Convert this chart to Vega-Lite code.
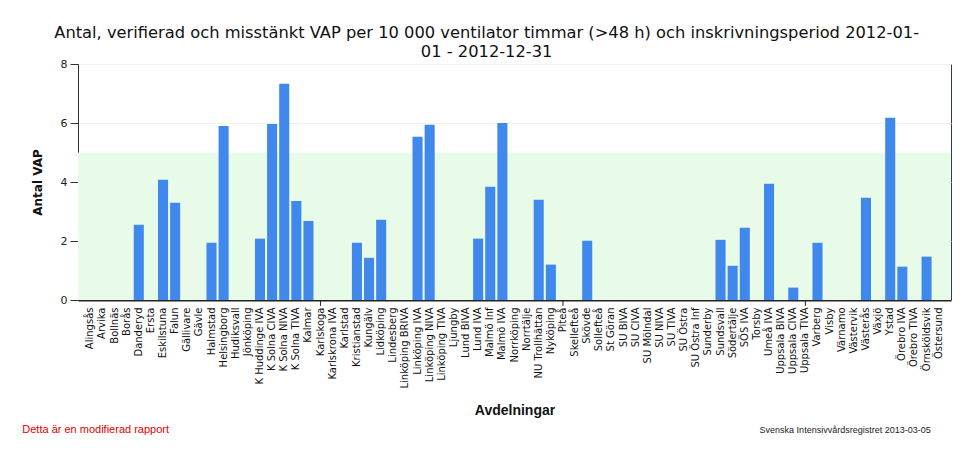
{
  "$schema": "https://vega.github.io/schema/vega-lite/v6.json",
  "width": 873,
  "height": 236,
  "padding": {"left": 22, "top": 24, "right": 20, "bottom": 10},
  "background": "#ffffff",
  "title": {
    "text": ["Antal, verifierad och misstänkt VAP per 10 000 ventilator timmar (>48 h) och inskrivningsperiod 2012-01-", "01 - 2012-12-31"],
    "font": "DejaVu Sans",
    "fontSize": 16.3,
    "fontWeight": "normal",
    "color": "#111111",
    "anchor": "middle",
    "frame": "bounds",
    "offset": -2,
    "lineHeight": 19
  },
  "data": {
    "values": [
      {"avd": "Alingsås", "vap": 0},
      {"avd": "Arvika", "vap": 0},
      {"avd": "Bollnäs", "vap": 0},
      {"avd": "Borås", "vap": 0},
      {"avd": "Danderyd", "vap": 2.55},
      {"avd": "Ersta", "vap": 0},
      {"avd": "Eskilstuna", "vap": 4.08},
      {"avd": "Falun", "vap": 3.3},
      {"avd": "Gällivare", "vap": 0},
      {"avd": "Gävle", "vap": 0},
      {"avd": "Halmstad", "vap": 1.94},
      {"avd": "Helsingborg", "vap": 5.9},
      {"avd": "Hudiksvall", "vap": 0},
      {"avd": "Jönköping", "vap": 0},
      {"avd": "K Huddinge IVA", "vap": 2.08},
      {"avd": "K Solna CIVA", "vap": 5.97},
      {"avd": "K Solna NIVA", "vap": 7.33},
      {"avd": "K Solna TIVA", "vap": 3.36},
      {"avd": "Kalmar", "vap": 2.68},
      {"avd": "Karlskoga", "vap": 0},
      {"avd": "Karlskrona IVA", "vap": 0},
      {"avd": "Karlstad", "vap": 0},
      {"avd": "Kristianstad", "vap": 1.94},
      {"avd": "Kungälv", "vap": 1.43},
      {"avd": "Lidköping", "vap": 2.72},
      {"avd": "Lindesberg", "vap": 0},
      {"avd": "Linköping BRIVA", "vap": 0},
      {"avd": "Linköping IVA", "vap": 5.53},
      {"avd": "Linköping NIVA", "vap": 5.94},
      {"avd": "Linköping TIVA", "vap": 0},
      {"avd": "Ljungby", "vap": 0},
      {"avd": "Lund BIVA", "vap": 0},
      {"avd": "Lund IVA", "vap": 2.08},
      {"avd": "Malmö Inf", "vap": 3.84},
      {"avd": "Malmö IVA", "vap": 6.0},
      {"avd": "Norrköping", "vap": 0},
      {"avd": "Norrtälje", "vap": 0},
      {"avd": "NU Trollhättan", "vap": 3.4},
      {"avd": "Nyköping", "vap": 1.2},
      {"avd": "Piteå", "vap": 0},
      {"avd": "Skellefteå", "vap": 0},
      {"avd": "Skövde", "vap": 2.01},
      {"avd": "Sollefteå", "vap": 0},
      {"avd": "St Göran", "vap": 0},
      {"avd": "SU BIVA", "vap": 0},
      {"avd": "SU CIVA", "vap": 0},
      {"avd": "SU Mölndal", "vap": 0},
      {"avd": "SU NIVA", "vap": 0},
      {"avd": "SU TIVA", "vap": 0},
      {"avd": "SU Östra", "vap": 0},
      {"avd": "SU Östra Inf", "vap": 0},
      {"avd": "Sunderby", "vap": 0},
      {"avd": "Sundsvall", "vap": 2.04},
      {"avd": "Södertälje", "vap": 1.16},
      {"avd": "SÖS IVA", "vap": 2.45},
      {"avd": "Torsby", "vap": 0},
      {"avd": "Umeå IVA", "vap": 3.94},
      {"avd": "Uppsala BIVA", "vap": 0},
      {"avd": "Uppsala CIVA", "vap": 0.42},
      {"avd": "Uppsala TIVA", "vap": 0},
      {"avd": "Varberg", "vap": 1.94},
      {"avd": "Visby", "vap": 0},
      {"avd": "Värnamo", "vap": 0},
      {"avd": "Västervik", "vap": 0},
      {"avd": "Västerås", "vap": 3.47},
      {"avd": "Växjö", "vap": 0},
      {"avd": "Ystad", "vap": 6.18},
      {"avd": "Örebro IVA", "vap": 1.13},
      {"avd": "Örebro TIVA", "vap": 0},
      {"avd": "Örnsköldsvik", "vap": 1.47},
      {"avd": "Östersund", "vap": 0}
    ]
  },
  "layer": [
    {
      "data": {"values": [{}]},
      "mark": {"type": "rect", "color": "#e8fbe8"},
      "encoding": {
        "y": {"datum": 0, "type": "quantitative"},
        "y2": {"datum": 5}
      }
    },
    {
      "mark": {"type": "bar", "color": "#4188ec"},
      "encoding": {
        "x": {
          "field": "avd",
          "type": "nominal",
          "sort": null,
          "scale": {"paddingInner": 0.17, "paddingOuter": 0.6},
          "axis": {
            "title": "Avdelningar",
            "labelAngle": -90,
            "labelOverlap": false,
            "labelFont": "DejaVu Sans",
            "labelFontSize": 10,
            "labelColor": "#111111",
            "labelPadding": 7,
            "ticks": false,
            "domainColor": "#222222",
            "domainWidth": 2,
            "titleFont": "Liberation Sans",
            "titleFontSize": 14,
            "titleFontWeight": "bold",
            "titleColor": "#111111",
            "titlePadding": 15
          }
        },
        "y": {
          "field": "vap",
          "type": "quantitative",
          "scale": {"domain": [0, 8], "nice": false},
          "axis": {
            "title": "Antal VAP",
            "values": [0, 2, 4, 6, 8],
            "grid": true,
            "gridColor": "#f0f0f0",
            "labelFont": "DejaVu Sans",
            "labelFontSize": 11,
            "labelColor": "#222222",
            "labelPadding": 3,
            "tickSize": 8,
            "tickColor": "#333333",
            "domainColor": "#333333",
            "titleFont": "DejaVu Sans",
            "titleFontSize": 12,
            "titleFontWeight": "bold",
            "titleColor": "#111111",
            "titlePadding": 16
          }
        }
      }
    },
    {
      "data": {"values": [{"avd": "Karlskoga"}, {"avd": "Piteå"}, {"avd": "Uppsala TIVA"}]},
      "mark": {"type": "rule", "color": "#222222", "strokeWidth": 1, "clip": false},
      "encoding": {
        "x": {"field": "avd", "type": "nominal", "sort": null},
        "y": {"datum": 0, "type": "quantitative"},
        "y2": {"datum": -0.2}
      }
    },
    {
      "data": {"values": [{}]},
      "mark": {"type": "text", "text": "Detta är en modifierad rapport", "align": "left", "baseline": "middle", "dx": -68, "font": "Liberation Sans", "fontSize": 11, "color": "#e00000", "clip": false},
      "encoding": {
        "x": {"datum": "Alingsås", "type": "nominal"},
        "y": {"datum": -4.4, "type": "quantitative"}
      }
    },
    {
      "data": {"values": [{}]},
      "mark": {"type": "text", "text": "Svenska Intensivvårdsregistret 2013-03-05", "align": "right", "baseline": "middle", "dx": -8, "font": "Liberation Sans", "fontSize": 9, "color": "#222222", "clip": false},
      "encoding": {
        "x": {"datum": "Östersund", "type": "nominal"},
        "y": {"datum": -4.4, "type": "quantitative"}
      }
    }
  ],
  "config": {
    "view": {"stroke": "#2f3d55", "strokeWidth": 1}
  }
}
